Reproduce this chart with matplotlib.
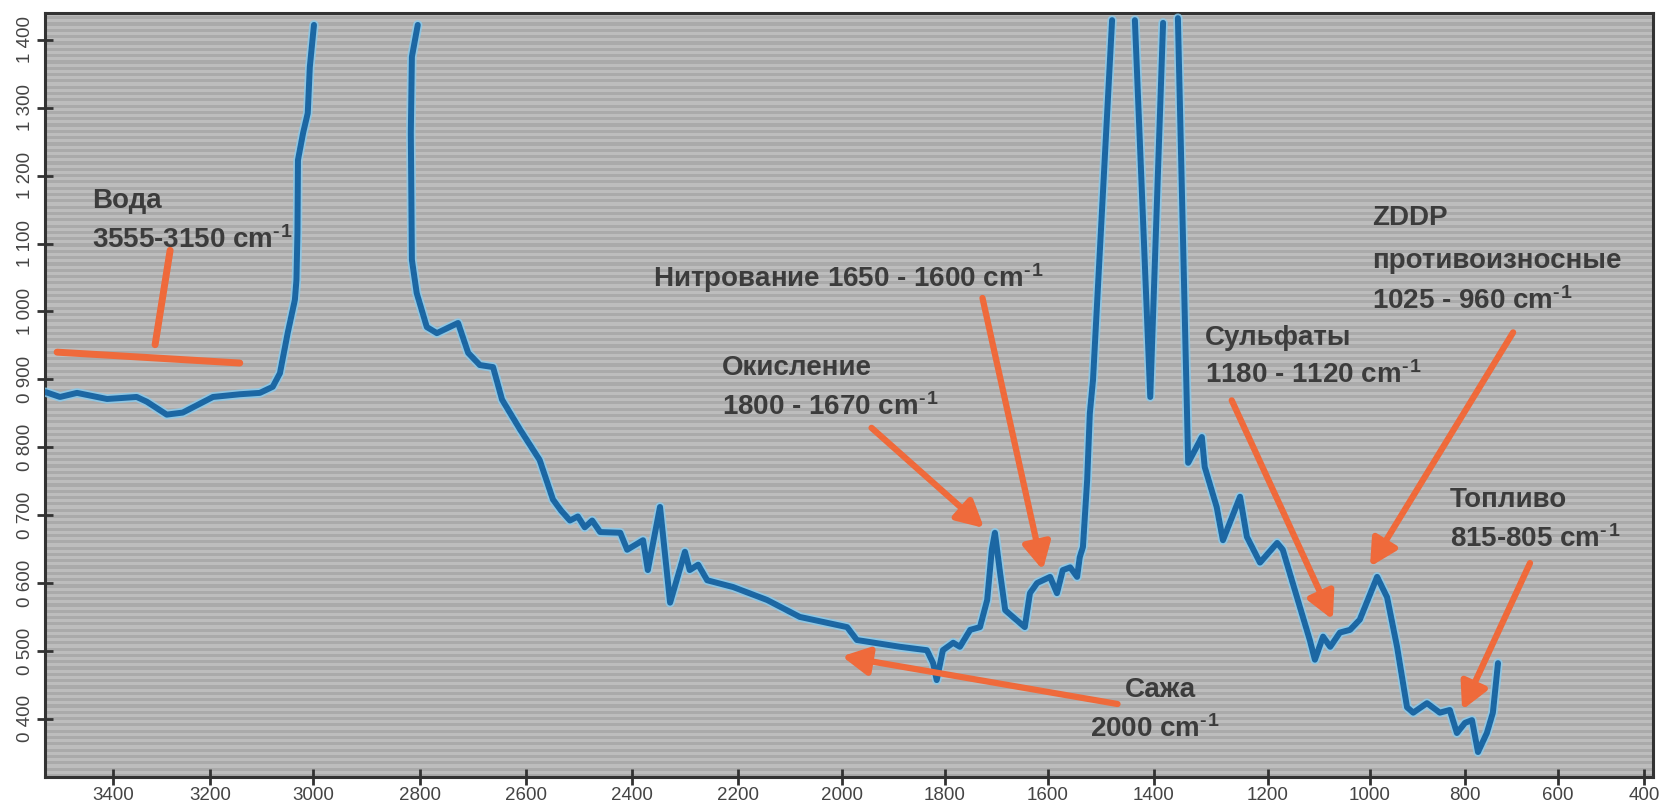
import numpy as np
import matplotlib
matplotlib.use('Agg')
import matplotlib.pyplot as plt
import matplotlib.patheffects as pe
from matplotlib.colors import ListedColormap

plt.rcParams['font.family'] = ['Liberation Sans', 'DejaVu Sans']
plt.rcParams['mathtext.default'] = 'regular'

# ИК-спектр масла: волновое число (cm-1) и поглощение, NaN = зашкал (разрыв линии)
nan = np.nan
wavenumber = [3538, 3509, 3474, 3412, 3351, 3330, 3289, 3256, 3194, 3142, 3103, 3078,
              3064, 3049, 3035, 3032, 3030, 3029, 3019, 3010, 3006, 2998,
              nan,
              2804, 2815, 2817, 2815, 2806, 2787, 2768, 2728, 2709, 2687, 2662, 2645,
              2611, 2574, 2549, 2534, 2517, 2502, 2489, 2475, 2460, 2422, 2409, 2379,
              2370, 2347, 2328, 2300, 2291, 2275, 2258, 2209, 2144, 2081, 1990, 1971,
              1887, 1835, 1823, 1816, 1804, 1784, 1771, 1751, 1732, 1718, 1709, 1703,
              1693, 1683, 1668, 1645, 1635, 1621, 1610, 1596, 1583, 1572, 1558, 1545,
              1540, 1534, 1526, 1521, 1515, 1479,
              nan,
              1436, 1407, 1384,
              nan,
              1358, 1340, 1316, 1311, 1290, 1279, 1249, 1237, 1214, 1182, 1171, 1143,
              1118, 1108, 1092, 1078, 1059, 1039, 1020, 985, 964, 943, 922, 909,
              880, 853, 832, 817, 800, 785, 772, 753, 740, 729]
absorbance = [0.881, 0.874, 0.880, 0.871, 0.874, 0.867, 0.848, 0.851, 0.874, 0.878, 0.880, 0.889,
              0.909, 0.968, 1.017, 1.046, 1.116, 1.223, 1.263, 1.292, 1.360, 1.422,
              nan,
              1.422, 1.375, 1.263, 1.076, 1.027, 0.977, 0.968, 0.983, 0.939, 0.921, 0.918, 0.870,
              0.826, 0.781, 0.723, 0.707, 0.692, 0.698, 0.682, 0.692, 0.675, 0.674, 0.649, 0.663,
              0.619, 0.712, 0.571, 0.646, 0.619, 0.627, 0.604, 0.594, 0.575, 0.550, 0.535, 0.516,
              0.506, 0.501, 0.482, 0.457, 0.501, 0.512, 0.506, 0.531, 0.535, 0.575, 0.649, 0.674,
              0.615, 0.560, 0.550, 0.535, 0.585, 0.600, 0.604, 0.609, 0.585, 0.619, 0.623, 0.609,
              0.638, 0.653, 0.752, 0.850, 0.899, 1.429,
              nan,
              1.429, 0.874, 1.425,
              nan,
              1.432, 0.777, 0.815, 0.771, 0.712, 0.663, 0.727, 0.668, 0.630, 0.659, 0.649, 0.579,
              0.516, 0.487, 0.521, 0.506, 0.527, 0.531, 0.546, 0.609, 0.579, 0.506, 0.417, 0.409,
              0.423, 0.409, 0.413, 0.379, 0.394, 0.398, 0.351, 0.379, 0.409, 0.482]

x_ticks = [3400, 3200, 3000, 2800, 2600, 2400, 2200, 2000, 1800, 1600, 1400, 1200, 1000, 800, 600, 400]
y_ticks = [0.4, 0.5, 0.6, 0.7, 0.8, 0.9, 1.0, 1.1, 1.2, 1.3, 1.4]
y_labels = ['0 400', '0 500', '0 600', '0 700', '0 800', '0 900', '1 000', '1 100', '1 200', '1 300', '1 400']

# шкала по X в исходнике неравномерная - калибровка по меткам
cal_wn = np.array([0, 400, 600, 800, 1000, 1200, 1400, 1600, 1800, 2000, 2200, 2400, 2600, 2800, 3000, 3200, 3400, 5000])
cal_px = np.array([1816, 1644, 1558, 1465, 1370, 1268, 1154, 1048, 945, 842, 738, 632, 526, 420, 313, 210, 113, -663])

def fwd(v):
    return np.interp(v, cal_wn, -cal_px)

def inv(q):
    return np.interp(q, -cal_px, cal_wn)

fig = plt.figure(figsize=(16.6, 8.09), dpi=100)
ax = fig.add_axes([0.0271, 0.0396, 0.9687, 0.9443])
ax.set_xscale('function', functions=(fwd, inv))

# фон в полоску
stripes = np.tile([0, 1], 121)[:, None]
ax.imshow(stripes, cmap=ListedColormap(['#bdbdbd', '#aaaaaa']), aspect='auto',
          extent=(0, 1, 0, 1), transform=ax.transAxes, interpolation='nearest', zorder=0)

ax.plot(wavenumber, absorbance, color='#1c67a3', lw=4.3, solid_capstyle='round',
        solid_joinstyle='round', zorder=4,
        path_effects=[pe.Stroke(linewidth=6.8, foreground='#86cbef', alpha=0.8), pe.Normal()])

orange = '#ef6a3b'
txt = dict(fontsize=20, fontweight='bold', color='#3c3c3c', transform=ax.transAxes, zorder=3)
cm = 'cm$^{\u2010\u200a1}$'

# Вода
ax.plot([3515, 3142], [0.940, 0.924], color=orange, lw=5, solid_capstyle='round', zorder=5)
ax.plot([3282, 3313], [1.090, 0.951], color=orange, lw=5, solid_capstyle='round', zorder=5)
ax.text(0.0292, 0.7448, 'Вода', **txt)
ax.text(0.0292, 0.6924, '3555-3150 ' + cm, **txt)

ax.text(0.378, 0.6414, 'Нитрование 1650 - 1600 ' + cm, **txt)
ax.text(0.421, 0.5262, 'Окисление', **txt)
ax.text(0.421, 0.4738, '1800 - 1670 ' + cm, **txt)
ax.text(0.6716, 0.1047, 'Сажа', **txt)
ax.text(0.650, 0.0524, '2000 ' + cm, **txt)
ax.text(0.7214, 0.5654, 'Сульфаты', **txt)
ax.text(0.7214, 0.5157, '1180 - 1120 ' + cm, **txt)
ax.text(0.8253, 0.7225, 'ZDDP', **txt)
ax.text(0.8253, 0.6660, 'противоизносные', **txt)
ax.text(0.8253, 0.6130, '1025 - 960 ' + cm, **txt)
ax.text(0.8738, 0.3534, 'Топливо', **txt)
ax.text(0.8738, 0.3010, '815-805 ' + cm, **txt)

arrows = [((1724, 0.681), (0.514, 0.457)),
          ((1610, 0.619), (0.583, 0.627)),
          ((2000, 0.492), (0.667, 0.0955)),
          ((1073, 0.546), (0.738, 0.493)),
          ((1000, 0.624), (0.913, 0.582)),
          ((806, 0.413), (0.9235, 0.280))]
for tip, tail in arrows:
    ax.annotate('', xy=tip, xycoords='data', xytext=tail, textcoords='axes fraction',
                arrowprops=dict(arrowstyle='-|>,head_length=0.8,head_width=0.42', lw=4.5,
                                color=orange, shrinkA=0, shrinkB=0, mutation_scale=20,
                                capstyle='round'),
                zorder=6)

ax.set_xticks(x_ticks)
ax.set_xticklabels([str(t) for t in x_ticks])
ax.set_yticks(y_ticks)
ax.set_yticklabels(y_labels, rotation=90, va='center')
ax.tick_params(direction='inout', length=12, width=2, colors='#333333', labelcolor='#444444',
               labelsize=13.5)
ax.tick_params(axis='x', pad=1)
ax.tick_params(axis='y', pad=2)
ax.minorticks_off()
for s in ax.spines.values():
    s.set_linewidth(2.2)
    s.set_color('#333333')

ax.set_xlim(3540, 379)
ax.set_ylim(0.3143, 1.4395)

fig.savefig('out.png', dpi=100)
